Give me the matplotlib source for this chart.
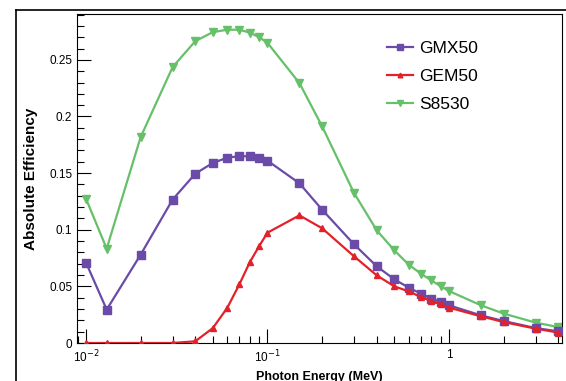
import matplotlib
matplotlib.use("Agg")
import matplotlib.pyplot as plt
from matplotlib.lines import Line2D
from matplotlib.ticker import MultipleLocator, LogLocator, NullFormatter

plt.rcParams['font.family'] = ['Liberation Sans', 'DejaVu Sans']

# photon energies (MeV)
energy = [0.01, 0.013, 0.02, 0.03, 0.04, 0.05, 0.06, 0.07, 0.08, 0.09, 0.1,
          0.15, 0.2, 0.3, 0.4, 0.5, 0.6, 0.7, 0.8, 0.9, 1.0, 1.5, 2, 3, 4]

gmx50 = [0.071, 0.0295, 0.078, 0.1266, 0.1495, 0.159, 0.1636, 0.165, 0.1648, 0.1636, 0.161,
         0.141, 0.1177, 0.0871, 0.0677, 0.0562, 0.0489, 0.0436, 0.0392, 0.0362, 0.0333,
         0.0244, 0.0194, 0.0132, 0.0103]
gem50 = [0.0, 0.0, 0.0, 0.0, 0.0015, 0.0132, 0.031, 0.0518, 0.0715, 0.0856, 0.0974,
         0.1127, 0.1013, 0.0765, 0.0597, 0.050, 0.0456, 0.0406, 0.0371, 0.0342, 0.0312,
         0.0236, 0.0185, 0.0127, 0.0092]
s8530 = [0.1274, 0.0833, 0.1818, 0.2436, 0.2665, 0.2745, 0.2766, 0.2766, 0.274, 0.270, 0.265,
         0.2295, 0.1913, 0.1324, 0.0995, 0.0818, 0.0692, 0.0612, 0.0553, 0.050, 0.0459,
         0.0333, 0.026, 0.018, 0.0141]

purple = "#6a4ca8"
red = "#e2222a"
green = "#66c06a"

fig = plt.figure(figsize=(5.66, 3.81), dpi=100)
ax = fig.add_axes([77/566, 38/381, (561.5-77)/566, (343-14)/381])

ax.plot(energy, s8530, color=green, lw=1.6, marker='v', ms=5.5, label='S8530', zorder=2)
ax.plot(energy, gmx50, color=purple, lw=1.6, marker='s', ms=5.5, label='GMX50', zorder=3)
ax.plot(energy, gem50, color=red, lw=1.6, marker='^', ms=4.8, label='GEM50', zorder=4)

ax.set_xscale('log')
ax.set_xlim(0.00892, 4.17)
ax.set_ylim(0, 0.2905)

ax.set_xticks([0.01, 0.1, 1], ['10$^{-2}$', '10$^{-1}$', '1'])
ax.xaxis.set_minor_locator(LogLocator(base=10, subs=range(2, 10), numticks=20))
ax.xaxis.set_minor_formatter(NullFormatter())
ax.yaxis.set_minor_locator(MultipleLocator(0.01))
ax.set_yticks([0, 0.05, 0.1, 0.15, 0.2, 0.25], ['0', '0.05', '0.1', '0.15', '0.2', '0.25'])

ax.tick_params(which='both', direction='in', top=False, right=False, labelsize=8.5)
ax.tick_params(which='major', length=10, width=0.8)
ax.tick_params(which='minor', length=5, width=0.8)
ax.tick_params(axis='x', pad=4)
for s in ax.spines.values():
    s.set_linewidth(0.8)

ax.set_xlabel('Photon Energy (MeV)', fontsize=9, fontweight='bold', labelpad=4)
ax.set_ylabel('Absolute Efficiency', fontsize=11, fontweight='bold', labelpad=8)

h, l = ax.get_legend_handles_labels()
order = [1, 2, 0]
ax.legend([h[i] for i in order], [l[i] for i in order], loc='upper left',
          bbox_to_anchor=(0.607, 0.966), frameon=False, fontsize=12.5,
          markerscale=0.7, handlelength=1.5, labelspacing=0.75, handletextpad=0.35)

# outer pad frame
fig.add_artist(Line2D([16/566, 1], [1 - 9.5/381, 1 - 9.5/381], color='black', lw=1.2))
fig.add_artist(Line2D([16/566, 16/566], [0, 1 - 9.5/381], color='black', lw=1.2))

fig.savefig('out.png', dpi=100)
